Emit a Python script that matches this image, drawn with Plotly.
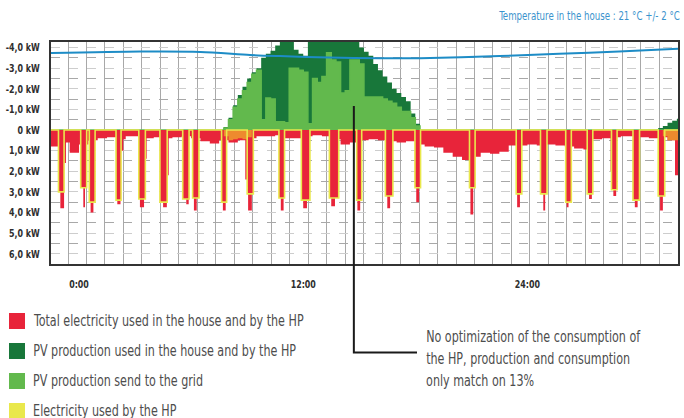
import numpy as np
import plotly.graph_objects as go

# ---------------- data ----------------
# time axis in hours (0 = midnight of the first day)
T_START, T_END = -1.5, 32.06
KW_TOP, KW_BOTTOM = -4.27, 6.5

# household base load (kW), half-hour steps starting at T_START
load_t = list(np.arange(-1.5, 32.01, 0.5))
load_kw = [0.8, 0.6, 1.1, 0.7, 0.5, 0.4, 0.35, 0.45, 0.3, 0.3,
           0.4, 0.35, 0.4, 0.35, 0.3, 0.4, 0.55, 0.65, 0.5, 0.6,
           0.5, 0.4, 0.3, 0.3, 0.25, 0.4, 0.4, 0.3, 0.25, 0.3,
           0.45, 0.7, 0.6, 0.5, 0.45, 0.5, 0.55, 0.6, 0.55, 0.7,
           0.8, 0.85, 1.1, 1.3, 1.45, 1.3, 1.1, 1.15, 1.05, 0.75,
           0.75, 0.7, 0.75, 0.7, 0.75, 0.8, 0.9, 0.95, 0.45, 0.4,
           0.35, 0.3, 0.3, 0.35, 0.4, 0.35, 0.5, 0.5]

# heat-pump cycles: start (h), stop (h), power (kW)
hp_on = [-1.1, 0.09, 0.55, 1.98, 3.2, 4.33, 5.55, 6.08, 7.63, 9.0, 10.7, 11.9,
         13.4, 14.86, 16.4, 17.98, 20.9, 23.4, 24.7, 26.05, 27.2, 28.5, 29.65, 31.0]
hp_off = [-0.8, 0.41, 0.86, 2.25, 3.55, 4.72, 5.89, 6.42, 7.9, 9.33, 11.0, 12.36,
          13.9, 15.13, 16.8, 18.28, 21.2, 23.7, 25.05, 26.35, 27.5, 28.8, 30.0, 31.35]
hp_kw = [3.0, 2.8, 3.5, 3.4, 3.35, 3.5, 3.35, 3.3, 3.5, 3.1, 3.3, 3.4,
         3.3, 3.4, 3.2, 2.8, 2.8, 3.1, 3.1, 3.5, 3.1, 2.9, 3.4, 3.2]

# short consumption peaks of the whole house: start (h), stop (h), total (kW)
peak_on = [-1.0, -0.8, 0.23, 0.62, 2.05, 2.25, 3.26, 3.55, 4.5, 4.72, 5.74, 6.15,
           7.7, 8.9, 9.05, 10.8, 12.0, 13.5, 14.9, 16.5, 18.05, 20.95, 23.45,
           24.85, 26.1, 27.3, 28.45, 28.6, 29.75, 31.1, 31.9]
peak_off = [-0.8, -0.7, 0.32, 0.77, 2.22, 2.37, 3.48, 3.62, 4.7, 4.8, 5.87, 6.3,
            7.85, 9.0, 9.25, 10.95, 12.2, 13.7, 15.05, 16.65, 18.2, 21.1, 23.6,
            24.95, 26.2, 27.45, 28.55, 28.75, 29.9, 31.25, 32.06]
peak_kw = [3.8, 1.6, 3.75, 4.0, 3.6, 1.0, 3.75, 1.4, 3.75, 2.2, 3.6, 3.9,
           3.9, 2.4, 3.9, 3.9, 3.8, 3.7, 3.9, 3.8, 3.5, 4.1, 3.75,
           3.9, 3.75, 3.35, 2.0, 3.2, 3.75, 3.9, 2.2]

# consumption covered directly by PV at dawn / dusk (kW)
covered_t = [7.5, 7.75, 8.0, 8.25, 8.5, 8.75, 9.0, 9.25, 31.0, 31.25, 31.5, 31.75, 32.0]
covered_kw = [0.0, 0.3, 0.5, 0.45, 0.4, 0.45, 0.35, 0.0, 0.0, 0.3, 0.5, 0.5, 0.5]

# PV production (kW) and the part of it sent to the grid, quarter-hour steps
pv_t = [7.5, 7.75, 8.0, 8.25, 8.5, 8.75, 9.0, 9.25, 9.5, 9.75, 10.0, 10.25,
        10.5, 10.75, 11.0, 11.25, 11.5, 11.75, 12.0, 12.25, 12.5, 12.75, 13.0,
        13.25, 13.5, 13.75, 14.0, 14.25, 14.5, 14.75, 15.0, 15.25, 15.5, 15.75,
        16.0, 16.25, 16.5, 16.75, 17.0, 17.25, 17.5, 17.75, 18.0, 18.25,
        30.75, 31.0, 31.25, 31.5, 31.75, 32.0]
pv_kw = [0.0, 0.15, 0.6, 1.2, 1.7, 2.1, 2.5, 2.8, 3.0, 3.5, 3.7, 3.85,
         4.1, 4.4, 4.5, 4.5, 3.9, 3.7, 3.6, 4.4, 4.5, 4.5, 4.5,
         4.5, 4.5, 4.5, 4.5, 4.5, 4.5, 4.5, 4.0, 3.8, 3.6, 3.2,
         2.9, 2.6, 2.3, 2.0, 1.8, 1.6, 1.4, 0.8, 0.3, 0.0,
         0.0, 0.1, 0.2, 0.35, 0.45, 0.55]
export_kw = [0.0, 0.1, 0.5, 1.1, 1.5, 1.9, 2.3, 2.7, 2.9, 0.5, 1.55, 1.5,
             0.4, 0.4, 0.35, 3.0, 3.0, 2.9, 2.8, 0.3, 2.5, 2.3, 2.6,
             3.75, 3.4, 3.3, 1.8, 1.9, 3.4, 3.4, 3.2, 1.6, 1.6, 1.6,
             1.6, 1.5, 1.4, 1.3, 1.1, 0.9, 0.9, 0.6, 0.2, 0.0,
             0.0, 0.0, 0.0, 0.0, 0.0, 0.0]

# indoor temperature (°C)
temp_t = [-1.5, 3.26, 6.5, 9.15, 10.75, 13.4, 16.1, 18.25, 22.5, 25.7, 28.9, 32.06]
temp_c = [21.70, 21.74, 21.73, 21.65, 21.62, 21.58, 21.56, 21.56, 21.62, 21.68, 21.74, 21.82]

x_ticks = [0, 12, 24]
x_labels = ["0:00", "12:00", "24:00"]
y_ticks = [-4, -3, -2, -1, 0, 1, 2, 3, 4, 5, 6]
y_labels = ["-4,0 kW", "-3,0 kW", "-2,0 kW", "-1,0 kW", "0 kW", "1,0 kW",
            "2,0 kW", "3,0 kW", "4,0 kW", "5,0 kW", "6,0 kW"]

legend_labels = ["Total electricity used in the house and by the HP",
                 "PV production used in the house and by the HP",
                 "PV production send to the grid",
                 "Electricity used by the HP"]
note_lines = ["No optimization of the consumption of",
              "the HP, production and consumption",
              "only match on 13%"]
temp_note = "Temperature in the house : 21 °C +/- 2 °C"

# ---------------- styling ----------------
RED = "#e8243a"
DARK_GREEN = "#18773a"
LIGHT_GREEN = "#62b94d"
YELLOW = "#e9e84c"
ORANGE = "#ee8a2e"
BLUE = "#1d8cc6"
TEXT = "#4d4d4d"
FONT = "DejaVu Sans Condensed, sans-serif"
SQUEEZE = 0.8  # horizontal compression of all labels (narrow typeface look)

W, H = 684, 418
M_L, M_R, M_T, M_B = 51, 6, 42, 154
PW, PH = W - M_L - M_R, H - M_T - M_B


def px_x(px):
    return (px - M_L) / PW


def px_y(py):
    return (H - M_B - py) / PH


def step_at(ts, vs, t):
    i = int(np.searchsorted(ts, t, side="right")) - 1
    return vs[i] if i >= 0 else 0.0


def pulse_at(on, off, kw, t):
    vals = [k for a, b, k in zip(on, off, kw) if a <= t < b]
    return max(vals) if vals else 0.0


def with_end(ts, vs):
    return list(ts) + [T_END], list(vs) + [vs[-1]]


# consumption series on the union of all break points
edges = sorted(set(load_t) | set(hp_on) | set(hp_off) | set(peak_on) | set(peak_off))
edges = [t for t in edges if t < T_END]
total_kw, hp_line = [], []
for t in edges:
    base = step_at(load_t, load_kw, t)
    hp = pulse_at(hp_on, hp_off, hp_kw, t)
    pk = pulse_at(peak_on, peak_off, peak_kw, t)
    total_kw.append(max(base, hp, pk))
    hp_line.append(hp)

fig = go.Figure()

tx, ty = with_end(pv_t, [-v for v in pv_kw])
fig.add_trace(go.Scatter(x=[T_START] + tx, y=[0] + ty, mode="lines", line_shape="hv",
                         fill="tozeroy", fillcolor=DARK_GREEN, line=dict(color=DARK_GREEN, width=0)))
tx, ty = with_end(pv_t, [-v for v in export_kw])
fig.add_trace(go.Scatter(x=[T_START] + tx, y=[0] + ty, mode="lines", line_shape="hv",
                         fill="tozeroy", fillcolor=LIGHT_GREEN, line=dict(color=LIGHT_GREEN, width=1.5)))

tx, ty = with_end(edges, total_kw)
fig.add_trace(go.Scatter(x=tx, y=ty, mode="lines", line_shape="hv",
                         fill="tozeroy", fillcolor=RED, line=dict(color=RED, width=0)))
tx, ty = with_end(covered_t, covered_kw)
fig.add_trace(go.Scatter(x=tx, y=ty, mode="lines", line_shape="hv",
                         fill="tozeroy", fillcolor=ORANGE, line=dict(color=ORANGE, width=0)))
tx, ty = with_end(edges, hp_line)
fig.add_trace(go.Scatter(x=tx, y=ty, mode="lines", line_shape="hv",
                         line=dict(color=YELLOW, width=1.6)))

fig.add_trace(go.Scatter(x=temp_t, y=temp_c, mode="lines", yaxis="y2",
                         line=dict(color=BLUE, width=2, shape="spline", smoothing=0.8)))

# leader line of the note
LEAD_T, LEAD_KW = 14.71, -1.17
lx = (LEAD_T - T_START) / (T_END - T_START)
ly = (KW_BOTTOM - LEAD_KW) / (KW_BOTTOM - KW_TOP)
shapes = [dict(type="path", xref="paper", yref="paper",
               path=f"M {lx},{ly} L {lx},{px_y(352.5)} L {px_x(417)},{px_y(352.5)}",
               line=dict(color="#1a1a1a", width=2))]

legend_colors = [RED, DARK_GREEN, LIGHT_GREEN, YELLOW]
legend_rows = [321, 351, 381, 411]
annotations = []
for lab, col, row in zip(legend_labels, legend_colors, legend_rows):
    shapes.append(dict(type="rect", xref="paper", yref="paper",
                       x0=px_x(9), x1=px_x(25), y0=px_y(row - 8), y1=px_y(row + 8),
                       fillcolor=col, line=dict(width=0)))
    annotations.append(dict(xref="paper", yref="paper", x=px_x(31), y=px_y(row),
                            xanchor="left", yanchor="middle", text=lab, showarrow=False,
                            font=dict(family=FONT, size=15.5, color=TEXT)))

for line, row in zip(note_lines, [337, 359, 381]):
    annotations.append(dict(xref="paper", yref="paper", x=px_x(424), y=px_y(row),
                            xanchor="left", yanchor="middle", text=line, showarrow=False,
                            font=dict(family=FONT, size=15.5, color=TEXT)))
annotations.append(dict(xref="paper", yref="paper", x=px_x(682), y=px_y(16),
                        xanchor="right", yanchor="middle", text=temp_note, showarrow=False,
                        font=dict(family=FONT, size=12, color="#3b93cd")))

fig.update_layout(
    template="none",
    width=W, height=H,
    margin=dict(l=M_L, r=M_R, t=M_T, b=M_B),
    paper_bgcolor="white", plot_bgcolor="white",
    showlegend=False,
    shapes=shapes, annotations=annotations,
    xaxis=dict(range=[T_START, T_END], tickmode="array", tickvals=x_ticks, ticktext=x_labels,
               automargin=False,
               showgrid=False, zeroline=False, ticks="", ticklabelstandoff=9,
               tickfont=dict(family=FONT, size=11, color="#2e2e2e", weight="bold"),
               showline=True, mirror=True, linecolor="#333333", linewidth=2,
               minor=dict(tick0=-0.59, dtick=0.989, showgrid=True,
                          gridcolor="#a8a8a8", gridwidth=1.3, ticks="")),
    yaxis=dict(range=[KW_BOTTOM, KW_TOP], tickmode="array", tickvals=y_ticks, ticktext=y_labels,
               automargin=False,
               showgrid=True, gridcolor="#cdcdcd", gridwidth=1, griddash="dash",
               zeroline=False, ticks="", ticklabelstandoff=7,
               tickfont=dict(family=FONT, size=11, color="#2e2e2e", weight="bold"),
               showline=True, mirror=True, linecolor="#333333", linewidth=2,
               minor=dict(tick0=0.5, dtick=1, showgrid=True,
                          gridcolor="#a8a8a8", gridwidth=1.2, ticks="")),
    yaxis2=dict(overlaying="y", range=[16, 22], visible=False),
)

# narrow every text horizontally around its anchor once the figure is drawn
squeeze_js = """
var gd = document.querySelector('.plotly-graph-div');
function squeeze(el, where) {
  var bb = el.getBBox();
  var x0 = where === 'start' ? bb.x : (where === 'end' ? bb.x + bb.width : bb.x + bb.width / 2);
  var prev = el.getAttribute('transform') || '';
  el.setAttribute('transform', prev + ' translate(' + x0 + ',0) scale(%(s)s,1) translate(' + (-x0) + ',0)');
}
gd.querySelectorAll('.ytick text').forEach(function (el) { squeeze(el, 'end'); });
gd.querySelectorAll('.xtick text').forEach(function (el) { squeeze(el, 'middle'); });
var notes = gd.querySelectorAll('.annotation-text');
notes.forEach(function (el, i) { squeeze(el, i === notes.length - 1 ? 'end' : 'start'); });
""" % {"s": SQUEEZE}

fig.write_html("out.html", config={"displayModeBar": False}, post_script=squeeze_js)
